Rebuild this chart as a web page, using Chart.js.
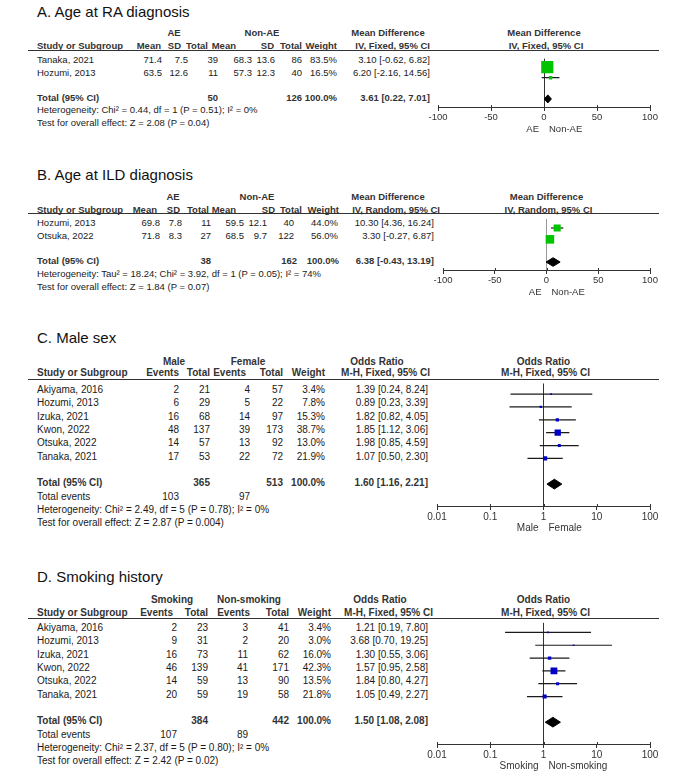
<!DOCTYPE html>
<html>
<head>
<meta charset="utf-8">
<script src="https://cdn.jsdelivr.net/npm/chart.js@4"></script>
<style>
  body { margin: 0; background: #fff; }
  #fig { position: relative; width: 685px; height: 778px; overflow: hidden; background: #fff; }
  .t { position: absolute; font: 10px/12px 'Liberation Sans', Arial, sans-serif; color: #1a1a1a; white-space: nowrap; }
  .b { font-weight: bold; color: #333; }
  .ttl { font-size: 15px !important; line-height: 18px; color: #111; }
  .rule { position: absolute; height: 1px; background: #333; }
  canvas { position: absolute; }
</style>
</head>
<body>
<div id="fig"></div>
<script>
// ---- data ----
// A. Age at RA diagnosis
const aStudy = ['Tanaka, 2021', 'Hozumi, 2013'];
const aMean1 = [71.4, 63.5], aSd1 = [7.5, 12.6], aN1 = [39, 11];
const aMean2 = [68.3, 57.3], aSd2 = [13.6, 12.3], aN2 = [86, 40];
const aWeight = [83.5, 16.5];
const aMD = [3.10, 6.20], aLo = [-0.62, -2.16], aHi = [6.82, 14.56];
const aTotalN = [50, 126], aTotalCI = [3.61, 0.22, 7.01];
const aHet = 'Heterogeneity: Chi² = 0.44, df = 1 (P = 0.51); I² = 0%';
const aTest = 'Test for overall effect: Z = 2.08 (P = 0.04)';

// B. Age at ILD diagnosis
const bStudy = ['Hozumi, 2013', 'Otsuka, 2022'];
const bMean1 = [69.8, 71.8], bSd1 = [7.8, 8.3], bN1 = [11, 27];
const bMean2 = [59.5, 68.5], bSd2 = [12.1, 9.7], bN2 = [40, 122];
const bWeight = [44.0, 56.0];
const bMD = [10.30, 3.30], bLo = [4.36, -0.27], bHi = [16.24, 6.87];
const bTotalN = [38, 162], bTotalCI = [6.38, -0.43, 13.19];
const bHet = 'Heterogeneity: Tau² = 18.24; Chi² = 3.92, df = 1 (P = 0.05); I² = 74%';
const bTest = 'Test for overall effect: Z = 1.84 (P = 0.07)';

// C. Male sex
const cStudy = ['Akiyama, 2016', 'Hozumi, 2013', 'Izuka, 2021', 'Kwon, 2022', 'Otsuka, 2022', 'Tanaka, 2021'];
const cEv1 = [2, 6, 16, 48, 14, 17], cN1 = [21, 29, 68, 137, 57, 53];
const cEv2 = [4, 5, 14, 39, 13, 22], cN2 = [57, 22, 97, 173, 92, 72];
const cWeight = [3.4, 7.8, 15.3, 38.7, 13.0, 21.9];
const cOR = [1.39, 0.89, 1.82, 1.85, 1.98, 1.07];
const cLo = [0.24, 0.23, 0.82, 1.12, 0.85, 0.50];
const cHi = [8.24, 3.39, 4.05, 3.06, 4.59, 2.30];
const cTotalN = [365, 513], cTotalEv = [103, 97], cTotalCI = [1.60, 1.16, 2.21];
const cHet = 'Heterogeneity: Chi² = 2.49, df = 5 (P = 0.78); I² = 0%';
const cTest = 'Test for overall effect: Z = 2.87 (P = 0.004)';

// D. Smoking history
const dStudy = ['Akiyama, 2016', 'Hozumi, 2013', 'Izuka, 2021', 'Kwon, 2022', 'Otsuka, 2022', 'Tanaka, 2021'];
const dEv1 = [2, 9, 16, 46, 14, 20], dN1 = [23, 31, 73, 139, 59, 59];
const dEv2 = [3, 2, 11, 41, 13, 19], dN2 = [41, 20, 62, 171, 90, 58];
const dWeight = [3.4, 3.0, 16.0, 42.3, 13.5, 21.8];
const dOR = [1.21, 3.68, 1.30, 1.57, 1.84, 1.05];
const dLo = [0.19, 0.70, 0.55, 0.95, 0.80, 0.49];
const dHi = [7.80, 19.25, 3.06, 2.58, 4.27, 2.27];
const dTotalN = [384, 442], dTotalEv = [107, 89], dTotalCI = [1.50, 1.08, 2.08];
const dHet = 'Heterogeneity: Chi² = 2.37, df = 5 (P = 0.80); I² = 0%';
const dTest = 'Test for overall effect: Z = 2.42 (P = 0.02)';

const mdTicks = [-100, -50, 0, 50, 100];
const orTicks = [0.01, 0.1, 1, 10, 100];

// ---- helpers ----
const fig = document.getElementById('fig');
const FONT = "'Liberation Sans', Arial, sans-serif";
Chart.defaults.font.family = FONT;
Chart.defaults.color = '#333';

let fs = 10; // current panel font size (A/B were exported a bit smaller)
function put(text, x, y, align, cls) {
  const d = document.createElement('div');
  d.className = 't' + (cls ? ' ' + cls : '');
  d.textContent = text;
  d.style.fontSize = fs + 'px';
  const lh = cls === 'ttl' ? 18 : 12;
  if (align === 'r') { d.style.left = (x - 200) + 'px'; d.style.width = '200px'; d.style.textAlign = 'right'; }
  else if (align === 'c') { d.style.left = (x - 100) + 'px'; d.style.width = '200px'; d.style.textAlign = 'center'; }
  else d.style.left = x + 'px';
  d.style.top = (y - lh / 2) + 'px';
  fig.appendChild(d);
}
function rule(y) {
  const d = document.createElement('div');
  d.className = 'rule';
  d.style.left = '28px'; d.style.width = '631px'; d.style.top = y + 'px';
  fig.appendChild(d);
}
const f1 = v => v.toFixed(1);
const ci = (e, l, h) => e.toFixed(2) + ' [' + l.toFixed(2) + ', ' + h.toFixed(2) + ']';

// labels under the axis + short upper tick marks
const dirLabels = {
  id: 'dirLabels',
  afterDraw(chart, args, o) {
    const { ctx, chartArea } = chart;
    const x = chart.scales.x;
    const x0 = x.getPixelForValue(o.zero);
    ctx.save();
    ctx.font = o.size + 'px ' + FONT;
    ctx.fillStyle = '#333';
    ctx.textBaseline = 'middle';
    ctx.textAlign = 'right'; ctx.fillText(o.left, x0 - 5, chartArea.bottom + 22);
    ctx.textAlign = 'left'; ctx.fillText(o.right, x0 + 5, chartArea.bottom + 22);
    ctx.strokeStyle = '#333'; ctx.lineWidth = 1;
    x.ticks.forEach(t => {
      const px = Math.round(x.getPixelForValue(t.value)) + 0.5;
      ctx.beginPath(); ctx.moveTo(px, chartArea.bottom - 2); ctx.lineTo(px, chartArea.bottom); ctx.stroke();
    });
    ctx.restore();
  }
};

function forest(L, n, est, lo, hi, weight, total, opt) {
  const padL = 24, padR = 24, below = 32, axisH = 16;
  const axisY = L.first + (n + (opt.events ? 3 : 2)) * L.rowH - 3.5;
  const areaH = Math.round(axisY - L.line);
  const w = L.axisR - L.axisL + padL + padR, h = areaH + below;
  const cv = document.createElement('canvas');
  cv.width = w; cv.height = h;
  cv.style.left = (L.axisL - padL) + 'px'; cv.style.top = L.line + 'px';
  cv.style.width = w + 'px'; cv.style.height = h + 'px';
  fig.appendChild(cv);

  const zero = opt.log ? 1 : 0;
  const yMin = -(L.first - L.line) / L.rowH;
  const yMax = yMin + areaH / L.rowH;
  const t = n + 1, hh = 0.38;

  const datasets = [{
    data: est.map((v, i) => ({ x: v, y: i })),
    pointStyle: 'rect',
    pointRadius: weight.map(wt => (1.3 + 0.13 * wt) / (2 * Math.SQRT1_2)),
    backgroundColor: opt.color, borderWidth: 0, pointBorderWidth: 0, order: 0
  }, {
    data: [{ x: total[1], y: t }, { x: total[0], y: t - hh }, { x: total[2], y: t }, { x: total[0], y: t + hh }, { x: total[1], y: t }],
    showLine: true, fill: 'shape', backgroundColor: '#000', borderColor: '#000', borderWidth: 1, pointRadius: 0, order: 1
  }];
  est.forEach((v, i) => datasets.push({
    data: [{ x: lo[i], y: i }, { x: hi[i], y: i }],
    showLine: true, borderColor: '#1a1a1a', borderWidth: 1.2, pointRadius: 0, order: 2
  }));

  new Chart(cv, {
    type: 'scatter',
    data: { datasets },
    options: {
      responsive: false, animation: false, events: [],
      layout: { padding: { left: padL, right: padR, top: 0, bottom: below - axisH } },
      plugins: {
        legend: { display: false }, tooltip: { enabled: false },
        dirLabels: { zero, left: opt.dir[0], right: opt.dir[1], size: fs }
      },
      scales: {
        x: {
          type: opt.log ? 'logarithmic' : 'linear',
          min: opt.ticks[0], max: opt.ticks[opt.ticks.length - 1],
          afterBuildTicks: s => { s.ticks = opt.ticks.map(v => ({ value: v })); },
          afterFit: s => { s.height = axisH; },
          border: { display: true, color: '#333', width: 1 },
          grid: {
            drawOnChartArea: true, drawTicks: true, tickLength: 4, tickColor: '#333',
            color: c => (c.tick && c.tick.value === zero) ? opt.zeroColor : 'rgba(0,0,0,0)'
          },
          ticks: { autoSkip: false, maxRotation: 0, padding: 1, color: '#333', font: { size: fs }, callback: v => String(v) }
        },
        y: { type: 'linear', display: false, reverse: true, min: yMin, max: yMax }
      }
    },
    plugins: [dirLabels]
  });
}

function panel(L, p) {
  const n = p.study.length;
  const pc = (L.axisL + L.axisR) / 2;
  put(p.title, 37, L.title, 'l', 'ttl');
  p.groups.forEach(g => put(g[0], g[1], L.group, 'c', 'b'));
  put(p.plotHead[0], pc, L.group, 'c', 'b');
  put('Study or Subgroup', 37, L.header, 'l', 'b');
  p.heads.forEach(hd => put(hd[0], hd[1], L.header, 'r', 'b'));
  put(p.plotHead[1], pc + 2, L.header, 'c', 'b');
  rule(L.line);
  p.study.forEach((s, i) => {
    const y = L.first + i * L.rowH;
    put(s, 37, y);
    p.row(i).forEach((c, j) => put(c, p.valR[j], y, 'r'));
  });
  let y = L.first + (n + 1) * L.rowH;
  put('Total (95% CI)', 37, y, 'l', 'b');
  p.totals.forEach(c => put(c[0], c[1], y, 'r', 'b'));
  if (p.events) {
    y += L.rowH;
    put('Total events', 37, y);
    p.events.forEach(c => put(c[0], c[1], y, 'r'));
  }
  put(p.het, 37, y + L.rowH);
  put(p.test, 37, y + 2 * L.rowH);
}

// ---- panel A ----
fs = 9.5;
const LA = { title: 12, group: 33, header: 46, line: 50, first: 60, rowH: 12.5, axisL: 438, axisR: 650 };
const rA = [162, 188, 218, 252, 275, 302, 337, 430];
panel(LA, {
  title: 'A. Age at RA diagnosis',
  groups: [['AE', 174], ['Non-AE', 262], ['Mean Difference', 388]],
  plotHead: ['Mean Difference', 'IV, Fixed, 95% CI'],
  heads: [['Mean', 161], ['SD', 181], ['Total', 208], ['Mean', 236], ['SD', 274], ['Total', 302], ['Weight', 337], ['IV, Fixed, 95% CI', 430]],
  study: aStudy, valR: rA,
  row: i => [f1(aMean1[i]), f1(aSd1[i]), aN1[i], f1(aMean2[i]), f1(aSd2[i]), aN2[i], f1(aWeight[i]) + '%', ci(aMD[i], aLo[i], aHi[i])],
  totals: [[aTotalN[0], rA[2]], [aTotalN[1], rA[5]], ['100.0%', rA[6]], [ci(...aTotalCI), rA[7]]],
  het: aHet, test: aTest
});
forest(LA, aStudy.length, aMD, aLo, aHi, aWeight, aTotalCI,
  { ticks: mdTicks, color: '#00c400', zeroColor: '#333', dir: ['AE', 'Non-AE'] });

// ---- panel B ----
const LB = { title: 175, group: 197, header: 210, line: 213, first: 223, rowH: 12.7, axisL: 443, axisR: 650 };
const rB = [160, 182, 211, 244, 267, 294, 338, 434];
panel(LB, {
  title: 'B. Age at ILD diagnosis',
  groups: [['AE', 173], ['Non-AE', 257], ['Mean Difference', 388]],
  plotHead: ['Mean Difference', 'IV, Random, 95% CI'],
  heads: [['Mean', 157], ['SD', 180], ['Total', 209], ['Mean', 236], ['SD', 275], ['Total', 302], ['Weight', 339], ['IV, Random, 95% CI', 440]],
  study: bStudy, valR: rB,
  row: i => [f1(bMean1[i]), f1(bSd1[i]), bN1[i], f1(bMean2[i]), f1(bSd2[i]), bN2[i], f1(bWeight[i]) + '%', ci(bMD[i], bLo[i], bHi[i])],
  totals: [[bTotalN[0], rB[2]], [bTotalN[1], 297], ['100.0%', 339], [ci(...bTotalCI), rB[7]]],
  het: bHet, test: bTest
});
forest(LB, bStudy.length, bMD, bLo, bHi, bWeight, bTotalCI,
  { ticks: mdTicks, color: '#00c400', zeroColor: '#999', dir: ['AE', 'Non-AE'] });

// ---- panel C ----
fs = 10;
const LC = { title: 338, group: 362, header: 373, line: 379, first: 390, rowH: 13.33, axisL: 437, axisR: 650 };
const rC = [179, 210, 250, 283, 325, 428];
panel(LC, {
  title: 'C. Male sex',
  groups: [['Male', 174], ['Female', 248], ['Odds Ratio', 377]],
  plotHead: ['Odds Ratio', 'M-H, Fixed, 95% CI'],
  heads: [['Events', 179], ['Total', 210], ['Events', 246], ['Total', 283], ['Weight', 325], ['M-H, Fixed, 95% CI', 430]],
  study: cStudy, valR: rC,
  row: i => [cEv1[i], cN1[i], cEv2[i], cN2[i], f1(cWeight[i]) + '%', ci(cOR[i], cLo[i], cHi[i])],
  totals: [[cTotalN[0], rC[1]], [cTotalN[1], rC[3]], ['100.0%', rC[4]], [ci(...cTotalCI), rC[5]]],
  events: [[cTotalEv[0], rC[0]], [cTotalEv[1], rC[2]]],
  het: cHet, test: cTest
});
forest(LC, cStudy.length, cOR, cLo, cHi, cWeight, cTotalCI,
  { log: true, events: true, ticks: orTicks, color: '#0000c8', zeroColor: '#333', dir: ['Male', 'Female'] });

// ---- panel D ----
const LD = { title: 577, group: 600, header: 613, line: 618, first: 628, rowH: 13.33, axisL: 437, axisR: 650 };
const rD = [177, 208, 248, 289, 331, 428];
panel(LD, {
  title: 'D. Smoking history',
  groups: [['Smoking', 172], ['Non-smoking', 249], ['Odds Ratio', 380]],
  plotHead: ['Odds Ratio', 'M-H, Fixed, 95% CI'],
  heads: [['Events', 173], ['Total', 208], ['Events', 250], ['Total', 289], ['Weight', 331], ['M-H, Fixed, 95% CI', 433]],
  study: dStudy, valR: rD,
  row: i => [dEv1[i], dN1[i], dEv2[i], dN2[i], f1(dWeight[i]) + '%', ci(dOR[i], dLo[i], dHi[i])],
  totals: [[dTotalN[0], rD[1]], [dTotalN[1], rD[3]], ['100.0%', rD[4]], [ci(...dTotalCI), rD[5]]],
  events: [[dTotalEv[0], rD[0]], [dTotalEv[1], rD[2]]],
  het: dHet, test: dTest
});
forest(LD, dStudy.length, dOR, dLo, dHi, dWeight, dTotalCI,
  { log: true, events: true, ticks: orTicks, color: '#0000c8', zeroColor: '#333', dir: ['Smoking', 'Non-smoking'] });
</script>
</body>
</html>
